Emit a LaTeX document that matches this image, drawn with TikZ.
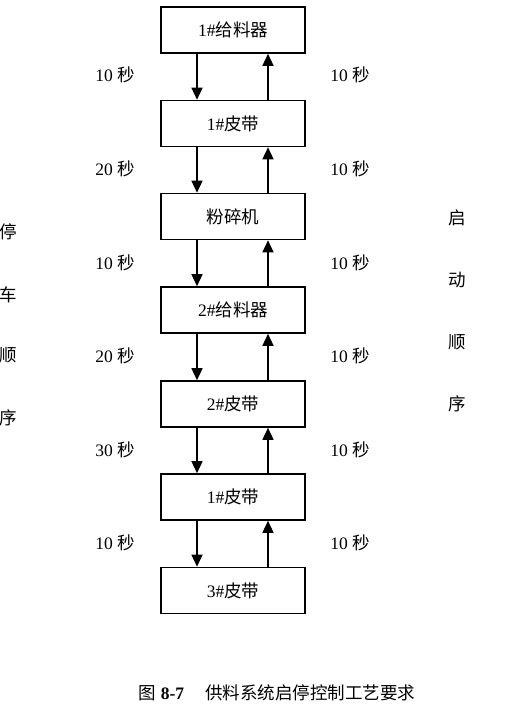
\documentclass[tikz,border=0pt]{standalone}
\usepackage{fontspec}
\setmainfont{Liberation Serif}
\newfontfamily\cjk{Noto Sans CJK SC}
\usetikzlibrary{arrows.meta}

\begin{document}
\begin{tikzpicture}[x=1pt,y=-1pt,font=\fontsize{17.5}{21}\selectfont,
	unit/.style={draw,line width=1.6pt,minimum width=144pt,minimum height=46pt,inner sep=0pt},
	flow/.style={line width=1.5pt,-{Triangle[length=12pt,width=11pt]}}]
	\useasboundingbox (0,0) rectangle (515,718);

	\node[unit] (Feeder1) at (233,30) {1\#{\cjk 给料器}};
	\node[unit] (Belt1) at (233,123.5) {1\#{\cjk 皮带}};
	\node[unit] (Crusher) at (233,216.5) {{\cjk 粉碎机}};
	\node[unit] (Feeder2) at (233,310) {2\#{\cjk 给料器}};
	\node[unit] (Belt2) at (233,404) {2\#{\cjk 皮带}};
	\node[unit] (BeltOne) at (233,497) {1\#{\cjk 皮带}};
	\node[unit] (Belt3) at (233,590.5) {3\#{\cjk 皮带}};

	\node (StopA) at (115,75) {10 {\cjk 秒}};
	\node (StopB) at (115,169) {20 {\cjk 秒}};
	\node (StopC) at (115,263) {10 {\cjk 秒}};
	\node (StopD) at (115,356) {20 {\cjk 秒}};
	\node (StopE) at (115,450) {30 {\cjk 秒}};
	\node (StopF) at (115,543) {10 {\cjk 秒}};

	\node (StartA) at (350,75) {10 {\cjk 秒}};
	\node (StartB) at (350,169) {10 {\cjk 秒}};
	\node (StartC) at (350,263) {10 {\cjk 秒}};
	\node (StartD) at (350,356) {10 {\cjk 秒}};
	\node (StartE) at (350,450) {10 {\cjk 秒}};
	\node (StartF) at (350,543) {10 {\cjk 秒}};

	\node (Stop1) at (8,232) {\cjk 停};
	\node (Stop2) at (8,295) {\cjk 车};
	\node (Stop3) at (8,355) {\cjk 顺};
	\node (Stop4) at (8,418) {\cjk 序};

	\node (Start1) at (457,218) {\cjk 启};
	\node (Start2) at (457,280) {\cjk 动};
	\node (Start3) at (457,342) {\cjk 顺};
	\node (Start4) at (457,404) {\cjk 序};

	\node (Caption) at (277,693) {{\cjk 图} \textbf{8-7}\hspace{1.2em}{\cjk 供料系统启停控制工艺要求}};

	\draw[flow] ([xshift=-36pt]Feeder1.south) -- ([xshift=-36pt]Belt1.north);
	\draw[flow] ([xshift=-36pt]Belt1.south) -- ([xshift=-36pt]Crusher.north);
	\draw[flow] ([xshift=-36pt]Crusher.south) -- ([xshift=-36pt]Feeder2.north);
	\draw[flow] ([xshift=-36pt]Feeder2.south) -- ([xshift=-36pt]Belt2.north);
	\draw[flow] ([xshift=-36pt]Belt2.south) -- ([xshift=-36pt]BeltOne.north);
	\draw[flow] ([xshift=-36pt]BeltOne.south) -- ([xshift=-36pt]Belt3.north);

	\draw[flow] ([xshift=35pt]Belt1.north) -- ([xshift=35pt]Feeder1.south);
	\draw[flow] ([xshift=35pt]Crusher.north) -- ([xshift=35pt]Belt1.south);
	\draw[flow] ([xshift=35pt]Feeder2.north) -- ([xshift=35pt]Crusher.south);
	\draw[flow] ([xshift=35pt]Belt2.north) -- ([xshift=35pt]Feeder2.south);
	\draw[flow] ([xshift=35pt]BeltOne.north) -- ([xshift=35pt]Belt2.south);
	\draw[flow] ([xshift=35pt]Belt3.north) -- ([xshift=35pt]BeltOne.south);
\end{tikzpicture}
\end{document}
